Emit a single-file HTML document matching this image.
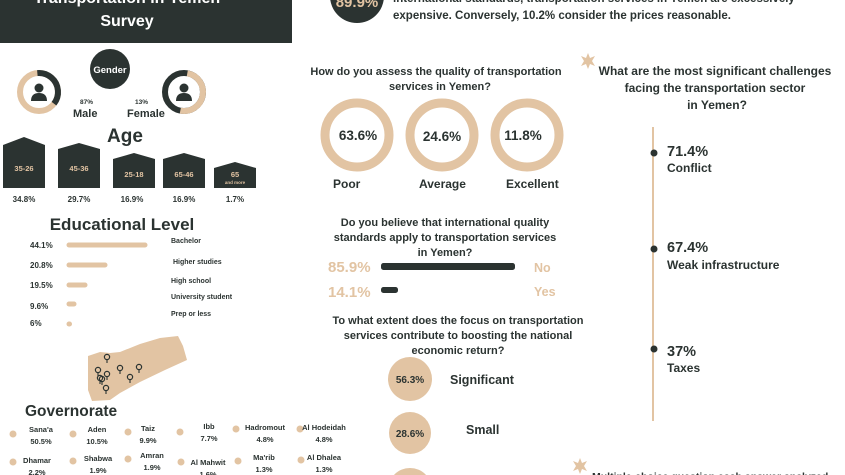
<!DOCTYPE html>
<html><head><meta charset="utf-8"><style>
html,body{margin:0;padding:0;background:#fff;width:845px;height:475px;overflow:hidden;}
svg{display:block;font-family:"Liberation Sans",sans-serif;font-weight:bold;}
</style></head><body>
<svg width="845" height="475" viewBox="0 0 845 475" xmlns="http://www.w3.org/2000/svg">
<defs>
<g id="pin"><circle cx="0" cy="0" r="2.6" fill="none" stroke="#2b3331" stroke-width="1.2"/><line x1="0" y1="2.6" x2="0" y2="6" stroke="#2b3331" stroke-width="1.1"/></g>
<g id="star"><path d="M0,-8 L2,-3 7,-5 4,0 7,5 2,3 0,8 -2,3 -7,5 -4,0 -7,-5 -2,-3Z" fill="#e2c4a3"/></g>
<g id="user"><circle cx="0" cy="-4" r="4.5" fill="#2b3331"/><path d="M-8,9 Q-8,1 0,1 Q8,1 8,9Z" fill="#2b3331"/></g>
</defs>
<!-- header -->
<rect x="0" y="0" width="292" height="43" fill="#2b3331"/>
<text x="127" y="3" fill="#fff" font-size="16" text-anchor="middle">Transportation in Yemen</text>
<text x="127" y="26" fill="#fff" font-size="16" text-anchor="middle">Survey</text>
<!-- top statement -->
<circle cx="357" cy="-4" r="27" fill="#2b3331"/>
<text x="357" y="7" fill="#e2c4a3" font-size="15" text-anchor="middle">89.9%</text>
<text x="393" y="2" fill="#2b3331" font-size="11.5">international standards, transportation services in Yemen are excessively</text>
<text x="393" y="19" fill="#2b3331" font-size="11.5">expensive. Conversely, 10.2% consider the prices reasonable.</text>
<!-- gender -->
<circle cx="110" cy="69" r="20" fill="#2b3331"/>
<text x="110" y="73" fill="#fff" font-size="9.5" text-anchor="middle">Gender</text>
<circle cx="39" cy="92" r="19" fill="none" stroke="#e2c4a3" stroke-width="6"/>
<circle cx="39" cy="92" r="19" fill="none" stroke="#2b3331" stroke-width="6" stroke-dasharray="44 200" transform="rotate(-95 39 92)"/>
<use href="#user" x="39" y="92"/>
<circle cx="184" cy="92" r="19" fill="none" stroke="#2b3331" stroke-width="6"/>
<circle cx="184" cy="92" r="19" fill="none" stroke="#e2c4a3" stroke-width="6" stroke-dasharray="60 200" transform="rotate(-80 184 92)"/>
<use href="#user" x="184" y="92"/>
<text x="80" y="104" font-size="6.5" fill="#2b3331">87%</text>
<text x="73" y="117" font-size="11" fill="#2b3331">Male</text>
<text x="135" y="104" font-size="6.5" fill="#2b3331">13%</text>
<text x="127" y="117" font-size="11" fill="#2b3331">Female</text>
<!-- age -->
<text x="125" y="142" font-size="19" fill="#2b3331" text-anchor="middle">Age</text>
<g fill="#2b3331">
<path d="M3,145 L24,137 45,145 45,188 3,188Z"/>
<path d="M58,149 L79,143 100,149 100,188 58,188Z"/>
<path d="M113,159 L134,153 155,159 155,188 113,188Z"/>
<path d="M163,159 L184,153 205,159 205,188 163,188Z"/>
<path d="M214,168 L235,162 256,168 256,188 214,188Z"/>
</g>
<g fill="#e2c4a3" font-size="7.5" text-anchor="middle">
<text x="24" y="171">35-26</text><text x="79" y="171">45-36</text><text x="134" y="177">25-18</text><text x="184" y="177">65-46</text><text x="235" y="177">65</text><text x="235" y="184" font-size="4.5">and more</text>
</g>
<g fill="#2b3331" font-size="8" text-anchor="middle">
<text x="24" y="202">34.8%</text><text x="79" y="202">29.7%</text><text x="132" y="202">16.9%</text><text x="184" y="202">16.9%</text><text x="235" y="202">1.7%</text>
</g>
<!-- education -->
<text x="122" y="230" font-size="17" fill="#2b3331" text-anchor="middle">Educational Level</text>
<g fill="#2b3331" font-size="8">
<text x="30" y="248">44.1%</text><text x="30" y="268">20.8%</text><text x="30" y="288">19.5%</text><text x="30" y="309">9.6%</text><text x="30" y="326">6%</text>
</g>
<g stroke="#e2c4a3" stroke-width="5" stroke-linecap="round">
<line x1="69" y1="245" x2="145" y2="245"/><line x1="69" y1="265" x2="105" y2="265"/><line x1="69" y1="285" x2="85" y2="285"/><line x1="69" y1="304" x2="74" y2="304"/><line x1="69" y1="324" x2="69.5" y2="324"/>
</g>
<g fill="#2b3331" font-size="7">
<text x="171" y="243">Bachelor</text><text x="173" y="264">Higher studies</text><text x="171" y="283">High school</text><text x="171" y="299">University student</text><text x="171" y="316">Prep or less</text>
</g>
<!-- map -->
<path d="M88,356 L100,352 110,353 120,352 140,344 160,338 178,336 183,346 187,360 165,370 140,382 120,393 110,400 92,401 88,390Z" fill="#e2c4a3"/>
<use href="#pin" x="107" y="357"/><use href="#pin" x="98" y="370"/><use href="#pin" x="107" y="374"/><use href="#pin" x="102" y="379"/><use href="#pin" x="100" y="378"/><use href="#pin" x="120" y="368"/><use href="#pin" x="139" y="367"/><use href="#pin" x="130" y="377"/><use href="#pin" x="106" y="388"/>
<!-- governorate -->
<text x="25" y="416" font-size="15.5" fill="#2b3331">Governorate</text>
<g fill="#e2c4a3">
<circle cx="13" cy="434" r="3.5"/><circle cx="73" cy="434" r="3.5"/><circle cx="128" cy="432" r="3.5"/><circle cx="180" cy="432" r="3.5"/><circle cx="236" cy="429" r="3.5"/><circle cx="300" cy="429" r="3.5"/>
<circle cx="13" cy="462" r="3.5"/><circle cx="73" cy="461" r="3.5"/><circle cx="128" cy="459" r="3.5"/><circle cx="181" cy="462" r="3.5"/><circle cx="238" cy="461" r="3.5"/><circle cx="301" cy="460" r="3.5"/>
</g>
<g fill="#2b3331" font-size="7.5" text-anchor="middle">
<text x="41" y="432">Sana'a</text><text x="41" y="444">50.5%</text>
<text x="97" y="432">Aden</text><text x="97" y="444">10.5%</text>
<text x="148" y="431">Taiz</text><text x="148" y="443">9.9%</text>
<text x="209" y="429">Ibb</text><text x="209" y="441">7.7%</text>
<text x="265" y="430">Hadromout</text><text x="265" y="442">4.8%</text>
<text x="324" y="430">Al Hodeidah</text><text x="324" y="442">4.8%</text>
<text x="37" y="463">Dhamar</text><text x="37" y="475">2.2%</text>
<text x="98" y="461">Shabwa</text><text x="98" y="473">1.9%</text>
<text x="152" y="458">Amran</text><text x="152" y="470">1.9%</text>
<text x="208" y="465">Al Mahwit</text><text x="208" y="477">1.6%</text>
<text x="264" y="460">Ma'rib</text><text x="264" y="472">1.3%</text>
<text x="324" y="460">Al Dhalea</text><text x="324" y="472">1.3%</text>
</g>
<!-- quality -->
<g fill="#2b3331" font-size="11" text-anchor="middle">
<text x="436" y="75">How do you assess the quality of transportation</text>
<text x="440" y="90">services in Yemen?</text>
</g>
<g fill="none" stroke="#e2c4a3" stroke-width="9">
<circle cx="357" cy="135" r="32"/><circle cx="442" cy="135" r="32"/><circle cx="527" cy="135" r="32"/>
</g>
<g fill="#2b3331" font-size="13.5" text-anchor="middle">
<text x="358" y="140">63.6%</text><text x="442" y="141">24.6%</text><text x="523" y="140">11.8%</text>
</g>
<g fill="#2b3331" font-size="12">
<text x="333" y="188">Poor</text><text x="419" y="188">Average</text><text x="506" y="188">Excellent</text>
</g>
<!-- standards -->
<g fill="#2b3331" font-size="11" text-anchor="middle">
<text x="445" y="226">Do you believe that international quality</text>
<text x="445" y="241">standards apply to transportation services</text>
<text x="445" y="256">in Yemen?</text>
</g>
<g fill="#e2c4a3" font-size="15">
<text x="328" y="272">85.9%</text><text x="328" y="297">14.1%</text>
<text x="534" y="272" font-size="12.5">No</text><text x="534" y="296" font-size="12.5">Yes</text>
</g>
<rect x="381" y="263" width="134" height="7" rx="2.5" fill="#2b3331"/>
<rect x="381" y="287" width="17" height="6" rx="2.5" fill="#2b3331"/>
<!-- economic -->
<g fill="#2b3331" font-size="11" text-anchor="middle">
<text x="458" y="324">To what extent does the focus on transportation</text>
<text x="458" y="339">services contribute to boosting the national</text>
<text x="458" y="354">economic return?</text>
</g>
<g fill="#e2c4a3"><circle cx="410" cy="379" r="22"/><circle cx="410" cy="433" r="21"/><circle cx="410" cy="490" r="22"/></g>
<g fill="#2b3331" font-size="10" text-anchor="middle"><text x="410" y="383">56.3%</text><text x="410" y="437">28.6%</text></g>
<text x="450" y="384" font-size="12.5" fill="#2b3331">Significant</text>
<text x="466" y="434" font-size="12.5" fill="#2b3331">Small</text>
<!-- challenges -->
<use href="#star" x="588" y="61"/>
<g fill="#2b3331" font-size="12" text-anchor="middle">
<text x="715" y="75">What are the most significant challenges</text>
<text x="715" y="92">facing the transportation sector</text>
<text x="717" y="109">in Yemen?</text>
</g>
<line x1="653" y1="127" x2="653" y2="421" stroke="#e2c4a3" stroke-width="2"/>
<g fill="#2b3331"><circle cx="654" cy="153" r="3.5"/><circle cx="654" cy="249" r="3.5"/><circle cx="654" cy="349" r="3.5"/></g>
<g fill="#2b3331">
<text x="667" y="156" font-size="14.5">71.4%</text><text x="667" y="172" font-size="12">Conflict</text>
<text x="667" y="252" font-size="14.5">67.4%</text><text x="667" y="269" font-size="12">Weak infrastructure</text>
<text x="667" y="356" font-size="14.5">37%</text><text x="667" y="372" font-size="12">Taxes</text>
</g>
<use href="#star" x="580" y="466"/>
<text x="592" y="480" font-size="10.5" fill="#2b3331">Multiple-choice question each answer analyzed</text>
</svg>
</body></html>
